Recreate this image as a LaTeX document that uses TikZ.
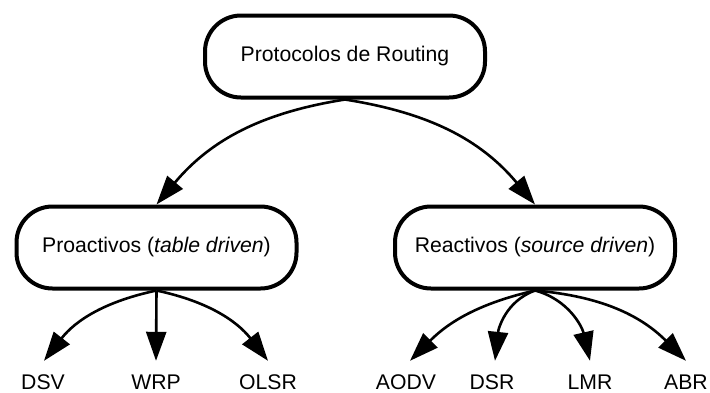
\documentclass[tikz,border=0pt]{standalone}
\usepackage{fontspec}
\setmainfont{Liberation Sans}
\usetikzlibrary{arrows.meta}
\begin{document}
\begin{tikzpicture}[x=1pt,y=1pt,
  catbox/.style={draw, line width=4pt, rounded corners=36pt, minimum width=280pt,
    minimum height=82pt, inner sep=0pt, fill=white,
    font=\fontsize{21.2}{25}\selectfont},
  leaf/.style={anchor=base, inner xsep=0pt, inner ysep=0pt, text height=15.2pt,
    text depth=0pt, outer ysep=13pt, font=\fontsize{21.2}{25}\selectfont},
  link/.style={line width=2.6pt, -{Triangle[length=29pt,width=20pt]}}
]
\useasboundingbox (0,0) rectangle (710,-392);

% category boxes
\node[catbox] (root) at (345,-56.5) {Protocolos de Routing};
\node[catbox] (pro) at (156.5,-247.5) {Proactivos (\textit{table driven})};
\node[catbox] (rea) at (535,-247.5) {Reactivos (\textit{source driven})};

% protocol names
\node[leaf] (dsv)  at (43,-389)  {DSV};
\node[leaf] (wrp)  at (156,-389) {WRP};
\node[leaf] (olsr) at (268,-389) {OLSR};
\node[leaf] (aodv) at (406,-389) {AODV};
\node[leaf] (dsr)  at (492,-389) {DSR};
\node[leaf] (lmr)  at (590,-389) {LMR};
\node[leaf] (abr)  at (686,-389) {ABR};

% top level
\draw[link] (root.south) to[out=189, in=50] (pro.north);
\draw[link] (root.south) to[out=-9, in=130] (rea.north);

% proactive protocols
\draw[link] (pro.south) to[out=192, in=52] ([xshift=1pt]dsv.north);
\draw[link] (pro.south) -- (wrp.north);
\draw[link] (pro.south) to[out=-12, in=128] (olsr.north);

% reactive protocols
\draw[link] (rea.south) to[out=193, in=45] ([xshift=4pt]aodv.north);
\draw[link] (rea.south) to[out=200, in=84] ([xshift=3pt]dsr.north);
\draw[link] (rea.south) to[out=-15, in=103] (lmr.north);
\draw[link] (rea.south) to[out=-5, in=135] (abr.north);
\end{tikzpicture}
\end{document}
